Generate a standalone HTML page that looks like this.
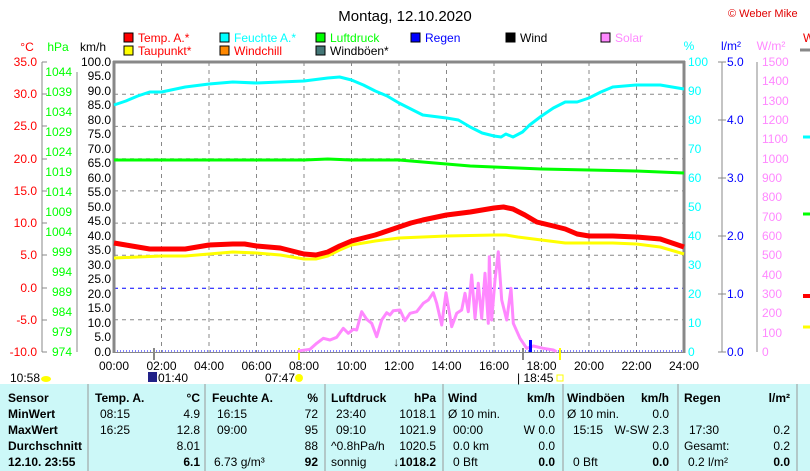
<!DOCTYPE html>
<html><head><meta charset="utf-8"><style>
body{margin:0;width:810px;height:471px;overflow:hidden;background:#fff;font-family:"Liberation Sans",sans-serif;position:relative}
svg{position:absolute;left:0;top:0}
.t{position:absolute;font-size:12px;white-space:nowrap;line-height:14px}
.b{font-weight:bold}
.r{text-align:right}
</style></head><body>
<svg width="810" height="471" font-family="Liberation Sans, sans-serif" font-size="12">
<text x="405" y="21" text-anchor="middle" font-size="15">Montag, 12.10.2020</text>
<text x="728" y="17" font-size="11" fill="#e00000">© Weber Mike</text>
<!-- legend -->
<g font-size="12">
<rect x="124" y="33" width="9" height="9" fill="#f00" stroke="#000"/><text x="138" y="42" fill="#f00">Temp. A.*</text>
<rect x="124" y="46" width="9" height="9" fill="#ff0" stroke="#000"/><text x="138" y="55" fill="#f00">Taupunkt*</text>
<rect x="220" y="33" width="9" height="9" fill="#0ff" stroke="#000"/><text x="234" y="42" fill="#0ff">Feuchte A.*</text>
<rect x="220" y="46" width="9" height="9" fill="#f80" stroke="#000"/><text x="234" y="55" fill="#f00">Windchill</text>
<rect x="316" y="33" width="9" height="9" fill="#0f0" stroke="#000"/><text x="330" y="42" fill="#0f0">Luftdruck</text>
<rect x="316" y="46" width="9" height="9" fill="#477" stroke="#000"/><text x="330" y="55">Windböen*</text>
<rect x="411" y="33" width="9" height="9" fill="#00f" stroke="#000"/><text x="425" y="42" fill="#00f">Regen</text>
<rect x="506" y="33" width="9" height="9" fill="#000" stroke="#000"/><text x="520" y="42">Wind</text>
<rect x="601" y="33" width="9" height="9" fill="#f8f" stroke="#000"/><text x="615" y="42" fill="#f8f">Solar</text>
</g>
<!-- axis titles -->
<text x="27" y="51" text-anchor="middle" fill="#f00">°C</text>
<text x="58" y="51" text-anchor="middle" fill="#0f0">hPa</text>
<text x="93" y="51" text-anchor="middle">km/h</text>
<text x="689" y="50" text-anchor="middle" fill="#0ff">%</text>
<text x="731" y="50" text-anchor="middle" fill="#00f">l/m²</text>
<text x="771" y="50" text-anchor="middle" fill="#f8f">W/m²</text>
<text x="803" y="42" fill="#e00">W</text>
<!-- grid -->
<g stroke="#888" stroke-dasharray="4,4" stroke-width="1">
<line x1="161.5" y1="62" x2="161.5" y2="352"/><line x1="209" y1="62" x2="209" y2="352"/><line x1="256.5" y1="62" x2="256.5" y2="352"/><line x1="304" y1="62" x2="304" y2="352"/><line x1="351.5" y1="62" x2="351.5" y2="352"/><line x1="399" y1="62" x2="399" y2="352"/><line x1="446.5" y1="62" x2="446.5" y2="352"/><line x1="494" y1="62" x2="494" y2="352"/><line x1="541.5" y1="62" x2="541.5" y2="352"/><line x1="589" y1="62" x2="589" y2="352"/><line x1="636.5" y1="62" x2="636.5" y2="352"/>
<line x1="114" y1="94.2" x2="684" y2="94.2"/><line x1="114" y1="126.4" x2="684" y2="126.4"/><line x1="114" y1="158.7" x2="684" y2="158.7"/><line x1="114" y1="190.9" x2="684" y2="190.9"/><line x1="114" y1="223.1" x2="684" y2="223.1"/><line x1="114" y1="255.3" x2="684" y2="255.3"/><line x1="114" y1="319.8" x2="684" y2="319.8"/>
</g>
<line x1="114" y1="288.2" x2="684" y2="288.2" stroke="#00f" stroke-dasharray="4,4"/>
<line x1="114" y1="351" x2="684" y2="351" stroke="#00f" stroke-dasharray="1,2"/>
<!-- frame -->
<line x1="113" y1="62" x2="685" y2="62" stroke="#888" stroke-width="3"/>
<line x1="114" y1="61" x2="114" y2="353" stroke="#888" stroke-width="3"/>
<line x1="684" y1="61" x2="684" y2="353" stroke="#888" stroke-width="3"/>
<line x1="114" y1="352.5" x2="684" y2="352.5" stroke="#888" stroke-width="1"/>
<!-- left axes -->
<g stroke="#888"><line x1="42" y1="62" x2="42" y2="352"/><line x1="77" y1="72" x2="77" y2="352"/><line x1="757" y1="62" x2="757" y2="352"/><line x1="722" y1="62" x2="722" y2="352"/></g>
<g fill="#f00" text-anchor="end">
<text x="37" y="66">35.0</text><text x="37" y="98">30.0</text><text x="37" y="130">25.0</text><text x="37" y="163">20.0</text><text x="37" y="195">15.0</text><text x="37" y="227">10.0</text><text x="37" y="259">5.0</text><text x="37" y="292">0.0</text><text x="37" y="324">-5.0</text><text x="37" y="356">-10.0</text>
</g>
<g stroke="#888"><line x1="42" y1="62" x2="47" y2="62"/><line x1="42" y1="94" x2="47" y2="94"/><line x1="42" y1="126" x2="47" y2="126"/><line x1="42" y1="159" x2="47" y2="159"/><line x1="42" y1="191" x2="47" y2="191"/><line x1="42" y1="223" x2="47" y2="223"/><line x1="42" y1="255" x2="47" y2="255"/><line x1="42" y1="288" x2="47" y2="288"/><line x1="42" y1="320" x2="47" y2="320"/><line x1="42" y1="352" x2="47" y2="352"/></g>
<g fill="#0f0" text-anchor="end">
<text x="72" y="76">1044</text><text x="72" y="96">1039</text><text x="72" y="116">1034</text><text x="72" y="136">1029</text><text x="72" y="156">1024</text><text x="72" y="176">1019</text><text x="72" y="196">1014</text><text x="72" y="216">1009</text><text x="72" y="236">1004</text><text x="72" y="256">999</text><text x="72" y="276">994</text><text x="72" y="296">989</text><text x="72" y="316">984</text><text x="72" y="336">979</text><text x="72" y="356">974</text>
</g>
<g text-anchor="end">
<text x="111" y="66">100.0</text><text x="111" y="80">95.0</text><text x="111" y="95">90.0</text><text x="111" y="109">85.0</text><text x="111" y="124">80.0</text><text x="111" y="138">75.0</text><text x="111" y="153">70.0</text><text x="111" y="167">65.0</text><text x="111" y="182">60.0</text><text x="111" y="196">55.0</text><text x="111" y="211">50.0</text><text x="111" y="225">45.0</text><text x="111" y="240">40.0</text><text x="111" y="254">35.0</text><text x="111" y="269">30.0</text><text x="111" y="283">25.0</text><text x="111" y="298">20.0</text><text x="111" y="312">15.0</text><text x="111" y="327">10.0</text><text x="111" y="341">5.0</text><text x="111" y="356">0.0</text>
</g>
<!-- right axes -->
<g fill="#0ff">
<text x="688" y="66">100</text><text x="688" y="95">90</text><text x="688" y="124">80</text><text x="688" y="153">70</text><text x="688" y="182">60</text><text x="688" y="211">50</text><text x="688" y="240">40</text><text x="688" y="269">30</text><text x="688" y="298">20</text><text x="688" y="327">10</text><text x="688" y="356">0</text>
</g>
<g fill="#00f">
<text x="727" y="66">5.0</text><text x="727" y="124">4.0</text><text x="727" y="182">3.0</text><text x="727" y="240">2.0</text><text x="727" y="298">1.0</text><text x="727" y="356">0.0</text>
</g>
<g stroke="#888"><line x1="718" y1="62" x2="726" y2="62"/><line x1="718" y1="120" x2="726" y2="120"/><line x1="718" y1="178" x2="726" y2="178"/><line x1="718" y1="236" x2="726" y2="236"/><line x1="718" y1="294" x2="726" y2="294"/><line x1="718" y1="352" x2="726" y2="352"/></g>
<g fill="#f8f">
<text x="762" y="66">1500</text><text x="762" y="85">1400</text><text x="762" y="105">1300</text><text x="762" y="124">1200</text><text x="762" y="143">1100</text><text x="762" y="163">1000</text><text x="762" y="182">900</text><text x="762" y="201">800</text><text x="762" y="221">700</text><text x="762" y="240">600</text><text x="762" y="259">500</text><text x="762" y="279">400</text><text x="762" y="298">300</text><text x="762" y="317">200</text><text x="762" y="337">100</text><text x="762" y="356">0</text>
</g>
<!-- x labels -->
<g text-anchor="middle">
<text x="114" y="370">00:00</text><text x="161.5" y="370">02:00</text><text x="209" y="370">04:00</text><text x="256.5" y="370">06:00</text><text x="304" y="370">08:00</text><text x="351.5" y="370">10:00</text><text x="399" y="370">12:00</text><text x="446.5" y="370">14:00</text><text x="494" y="370">16:00</text><text x="541.5" y="370">18:00</text><text x="589" y="370">20:00</text><text x="636.5" y="370">22:00</text><text x="684" y="370">24:00</text>
</g>
<line x1="154" y1="348" x2="154" y2="360" stroke="#888" stroke-width="2"/>
<line x1="523" y1="348" x2="523" y2="360" stroke="#888" stroke-width="2"/>
<line x1="299" y1="348" x2="299" y2="360" stroke="#ff0" stroke-width="2"/>
<line x1="560" y1="348" x2="560" y2="360" stroke="#ff0" stroke-width="2"/>
<!-- series -->
<g transform="translate(114 0) scale(23.75 1)" fill="none" stroke-linejoin="round">
<polyline vector-effect="non-scaling-stroke" stroke="#0f0" stroke-width="3" points="0,160 4,160 8,160 9,159 10,160 12,160 13,162 14,164 15,166 16,167 17,168 18,169 20,170 22,171 23,172 24,173"/>
<polyline vector-effect="non-scaling-stroke" stroke="#0ff" stroke-width="3" points="0,105 0.5,101 1,96 1.5,92 2,92 3,87 4,84 5,82 6,83 7,82 8,81 9,78 9.5,77 10,80 10.5,85 11,91 11.5,96 12,103 12.5,109 13,115 14,118 14.5,120 15,127 15.5,133 16,136 16.3,137 16.5,134 16.8,137 17.2,132 17.5,125 18,116 18.5,108 19,102 19.5,102 20,98 20.5,92 21,87 22,85 23,85 24,89"/>
<polyline vector-effect="non-scaling-stroke" stroke="#ff0" stroke-width="3" points="0,258 1,257 2,256 3,256 4,254 5,252 6,253 7,255 8,259 8.5,259 9,256 9.5,250 10,245 11,241 12,238 13,237 14,236 16,235 16.5,235 17,237 18,240 19,243 20,243 21,243 22,244 23,247 24,254"/>
<polyline vector-effect="non-scaling-stroke" stroke="#f00" stroke-width="5" points="0,243 0.5,245 1,247 1.5,249 2,249 3,249 3.5,247 4,245 5,244 5.5,244 6,246 7,248 7.5,251 8,254 8.5,255 9,252 9.5,246 10,241 11,235 12,227 12.5,223 13,220 14,215 15,212 15.5,210 16,208 16.4,207 16.8,209 17.3,215 17.8,222 18.5,226 19,229 19.5,234 20,236 21,236 22,237 23,239 23.5,243 24,247"/>
</g>
<polyline fill="none" stroke="#f8f" stroke-width="3" stroke-linejoin="round" points="298,352 300,350.7 310,349.3 316.7,343.3 323.3,338.3 330,340 336.7,337.3 343.3,328.3 348.3,333.3 353.3,329.3 356.7,330 361.7,311.7 366.7,319.3 371.7,323.3 376.7,336.7 381.7,320 386.7,312.7 390,315 393.3,310.7 400,310 405,320.7 410,313.3 416.7,311.7 423.3,303.3 428.3,300 433.3,292.7 436.7,303.3 441.7,325 446,292.7 451.7,326.7 456.7,313.3 461.7,310 465,293.3 468.3,311.7 471.7,275 475,318.3 478.3,283.3 481.7,318.3 485,273.3 488.3,323.3 489.3,256.7 491.7,320 495,280 498.3,251.7 501.7,300 506.7,320 511,288.3 513.3,323.3 520,338.3 526.7,348.3 533.3,346 543.3,348.3 553.3,350 556.7,351.7"/>
<rect x="529" y="340" width="3" height="12" fill="#00f"/>
<!-- right edge fragments -->
<line x1="800" y1="50" x2="810" y2="50" stroke="#888" stroke-width="3"/>
<line x1="803" y1="137" x2="810" y2="137" stroke="#0ff" stroke-width="3"/>
<line x1="803" y1="214" x2="810" y2="214" stroke="#0f0" stroke-width="3"/>
<line x1="803" y1="296" x2="810" y2="296" stroke="#f00" stroke-width="4"/>
<line x1="803" y1="327" x2="810" y2="327" stroke="#ff0" stroke-width="3"/>
<!-- table -->
<rect x="0" y="384" width="810" height="87" fill="#ccf8f8"/>
<g stroke="#999"><line x1="88" y1="384" x2="88" y2="471"/><line x1="205" y1="384" x2="205" y2="471"/><line x1="325" y1="384" x2="325" y2="471"/><line x1="443" y1="384" x2="443" y2="471"/><line x1="563" y1="384" x2="563" y2="471"/><line x1="678" y1="384" x2="678" y2="471"/><line x1="797" y1="384" x2="797" y2="471"/></g>
<text x="10" y="382">10:58</text><ellipse cx="46" cy="379" rx="5" ry="3" fill="#ff0"/>
<rect x="148" y="372" width="9" height="10" fill="#228"/><text x="158" y="382">01:40</text>
<text x="265" y="382">07:47</text><circle cx="299" cy="378" r="4" fill="#ff0"/>
<text x="517" y="382">| 18:45</text><rect x="557" y="375" width="6" height="6" fill="none" stroke="#ff0"/>
</svg>
<div class="t b" style="left:8px;top:391px">Sensor</div>
<div class="t b" style="left:8px;top:407px">MinWert</div>
<div class="t b" style="left:8px;top:423px">MaxWert</div>
<div class="t b" style="left:8px;top:439px">Durchschnitt</div>
<div class="t b" style="left:8px;top:455px">12.10. 23:55</div>

<div class="t b" style="left:95px;top:391px">Temp. A.</div><div class="t b r" style="left:150px;width:50px;top:391px">°C</div>
<div class="t" style="left:100px;top:407px">08:15</div><div class="t r" style="left:150px;width:50px;top:407px">4.9</div>
<div class="t" style="left:100px;top:423px">16:25</div><div class="t r" style="left:150px;width:50px;top:423px">12.8</div>
<div class="t r" style="left:150px;width:50px;top:439px">8.01</div>
<div class="t b r" style="left:150px;width:50px;top:455px">6.1</div>

<div class="t b" style="left:212px;top:391px">Feuchte A.</div><div class="t b r" style="left:270px;width:48px;top:391px">%</div>
<div class="t" style="left:217px;top:407px">16:15</div><div class="t r" style="left:270px;width:48px;top:407px">72</div>
<div class="t" style="left:217px;top:423px">09:00</div><div class="t r" style="left:270px;width:48px;top:423px">95</div>
<div class="t r" style="left:270px;width:48px;top:439px">88</div>
<div class="t" style="left:214px;top:455px">6.73 g/m³</div><div class="t b r" style="left:270px;width:48px;top:455px">92</div>

<div class="t b" style="left:331px;top:391px">Luftdruck</div><div class="t b r" style="left:386px;width:50px;top:391px">hPa</div>
<div class="t" style="left:336px;top:407px">23:40</div><div class="t r" style="left:386px;width:50px;top:407px">1018.1</div>
<div class="t" style="left:336px;top:423px">09:10</div><div class="t r" style="left:386px;width:50px;top:423px">1021.9</div>
<div class="t" style="left:331px;top:439px">^0.8hPa/h</div><div class="t r" style="left:386px;width:50px;top:439px">1020.5</div>
<div class="t" style="left:331px;top:455px">sonnig</div><div class="t b r" style="left:376px;width:60px;top:455px">↓1018.2</div>

<div class="t b" style="left:448px;top:391px">Wind</div><div class="t b r" style="left:505px;width:50px;top:391px">km/h</div>
<div class="t" style="left:448px;top:407px">Ø 10 min.</div><div class="t r" style="left:505px;width:50px;top:407px">0.0</div>
<div class="t" style="left:453px;top:423px">00:00</div><div class="t r" style="left:505px;width:50px;top:423px">W 0.0</div>
<div class="t" style="left:453px;top:439px">0.0 km</div><div class="t r" style="left:505px;width:50px;top:439px">0.0</div>
<div class="t" style="left:453px;top:455px">0 Bft</div><div class="t b r" style="left:505px;width:50px;top:455px">0.0</div>

<div class="t b" style="left:567px;top:391px">Windböen</div><div class="t b r" style="left:619px;width:50px;top:391px">km/h</div>
<div class="t" style="left:567px;top:407px">Ø 10 min.</div><div class="t r" style="left:619px;width:50px;top:407px">0.0</div>
<div class="t" style="left:573px;top:423px">15:15</div><div class="t r" style="left:599px;width:70px;top:423px">W-SW 2.3</div>
<div class="t r" style="left:619px;width:50px;top:439px">0.0</div>
<div class="t" style="left:573px;top:455px">0 Bft</div><div class="t b r" style="left:619px;width:50px;top:455px">0.0</div>

<div class="t b" style="left:684px;top:391px">Regen</div><div class="t b r" style="left:740px;width:50px;top:391px">l/m²</div>
<div class="t" style="left:689px;top:423px">17:30</div><div class="t r" style="left:740px;width:50px;top:423px">0.2</div>
<div class="t" style="left:684px;top:439px">Gesamt:</div><div class="t r" style="left:740px;width:50px;top:439px">0.2</div>
<div class="t" style="left:688px;top:455px">0.2 l/m²</div><div class="t b r" style="left:740px;width:50px;top:455px">0.0</div>
</body></html>
